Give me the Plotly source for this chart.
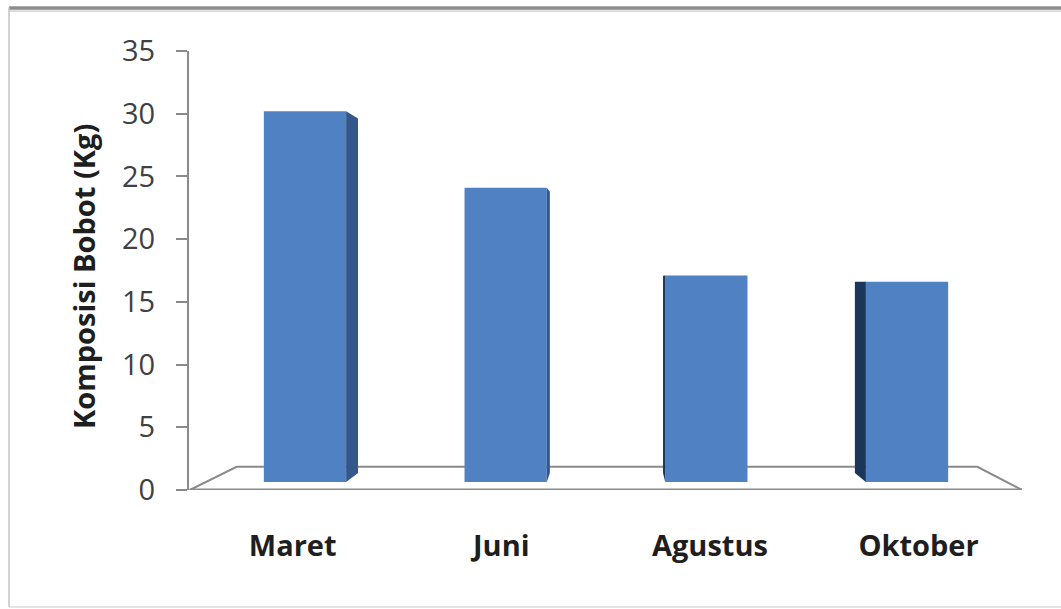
import plotly.graph_objects as go

# Data
categories = ["Maret", "Juni", "Agustus", "Oktober"]
bobot_kg = [30.2, 24.1, 17.1, 16.6]
y_ticks = [0, 5, 10, 15, 20, 25, 30, 35]

# Page geometry (pixels)
W, H = 1061, 609
PX_L, PX_R, PX_T, PX_B = 189, 1022, 51, 490

# Axis ranges
X_MIN, X_MAX = -0.578, 3.573
Y_MIN, Y_MAX = 0, 35

# Pseudo-3D perspective: vanishing point (data units) and depths
VP_X, VP_Y = 1.55, 16.8
FLOOR_DEPTH = 0.11      # depth of the floor plate
BAR_FRONT = 0.038       # depth at which the bar fronts stand
BAR_DEPTH = 0.044       # depth of each bar
BAR_W = 0.41

FRONT = "#5082c3"
SIDE_R = "#33578a"
SIDE_L = "#1b3658"
EDGE = "#8a8a8a"


def recede(x, y, d):
    """Move a point toward the vanishing point by fraction d."""
    return x + d * (VP_X - x), y + d * (VP_Y - y)


def to_paper_x(px):
    return (px - PX_L) / (PX_R - PX_L)


def to_paper_y(py):
    return (PX_B - py) / (PX_B - PX_T)


xpos = list(range(len(categories)))
base = BAR_FRONT * VP_Y  # floor level under the bar fronts
bar_len = [v - base for v in bobot_kg]

fig = go.Figure()
fig.add_trace(go.Bar(
    x=xpos, y=bar_len, base=[base] * len(xpos), width=BAR_W,
    marker=dict(color=FRONT, line=dict(width=0)),
    hoverinfo="skip",
))

shapes = []

# Floor plate
fl = (X_MIN + 0.004, 0)
fr = (X_MAX, 0)
br = recede(*fr, FLOOR_DEPTH)
bl = recede(*fl, FLOOR_DEPTH)
floor_path = (f"M {fl[0]},{fl[1]} L {fr[0]},{fr[1]} L {br[0]},{br[1]} "
              f"L {bl[0]},{bl[1]} Z")
shapes.append(dict(type="path", path=floor_path, xref="x", yref="y",
                   line=dict(color=EDGE, width=2), fillcolor="white",
                   layer="below"))
shapes.append(dict(type="line", xref="x", yref="y", x0=fl[0], y0=0,
                   x1=fr[0], y1=0, line=dict(color=EDGE, width=3),
                   layer="below"))

# Side faces of the bars
for x, v in zip(xpos, bobot_kg):
    right = x + BAR_W / 2
    left = x - BAR_W / 2
    if right < VP_X:
        ex, col = right, SIDE_R
    elif left > VP_X:
        ex, col = left, SIDE_L
    else:
        continue
    tx, ty = recede(ex, v, BAR_DEPTH)
    bx, by = recede(ex, base, BAR_DEPTH)
    p = f"M {ex},{base} L {ex},{v} L {tx},{ty} L {bx},{by} Z"
    shapes.append(dict(type="path", path=p, xref="x", yref="y",
                       fillcolor=col, line=dict(width=0), layer="above"))

# Chart frame
shapes.append(dict(type="line", xref="paper", yref="paper",
                   x0=to_paper_x(9), x1=to_paper_x(W), y0=to_paper_y(8),
                   y1=to_paper_y(8), line=dict(color="#8c8c8c", width=3.5)))
shapes.append(dict(type="line", xref="paper", yref="paper",
                   x0=to_paper_x(9), x1=to_paper_x(W), y0=to_paper_y(11),
                   y1=to_paper_y(11), line=dict(color="#dcdcdc", width=2)))
shapes.append(dict(type="line", xref="paper", yref="paper",
                   x0=to_paper_x(9), x1=to_paper_x(9), y0=to_paper_y(7),
                   y1=to_paper_y(607), line=dict(color="#c4c4c4", width=1.5)))
shapes.append(dict(type="line", xref="paper", yref="paper",
                   x0=to_paper_x(9), x1=to_paper_x(W), y0=to_paper_y(607),
                   y1=to_paper_y(607), line=dict(color="#dadada", width=1.5)))

# Category labels sit on the front edge of the floor
label_x = [VP_X + (x - VP_X) / (1 - BAR_FRONT) for x in xpos]

fig.update_layout(
    width=W, height=H,
    margin=dict(l=PX_L, r=W - PX_R, t=PX_T, b=H - PX_B),
    paper_bgcolor="white", plot_bgcolor="white",
    showlegend=False,
    shapes=shapes,
    font=dict(family="Open Sans", color="#404040"),
    xaxis=dict(range=[X_MIN, X_MAX], showgrid=False, zeroline=False,
               showline=False, ticks="", tickvals=label_x,
               ticktext=categories, ticklabelstandoff=36,
               tickfont=dict(family="Open Sans", size=29, color="#1e1e1e",
                             weight="bold")),
    yaxis=dict(range=[Y_MIN, Y_MAX], tickvals=y_ticks, showgrid=False,
               zeroline=False, showline=True, linecolor=EDGE, linewidth=2,
               ticks="outside", ticklen=11, tickwidth=2, tickcolor=EDGE,
               ticklabelstandoff=15,
               tickfont=dict(family="Open Sans", size=29, color="#404040")),
    annotations=[dict(
        text="Komposisi Bobot (Kg)", textangle=-90, showarrow=False,
        xref="paper", yref="paper", x=to_paper_x(83), y=to_paper_y(277),
        xanchor="center", yanchor="middle",
        font=dict(family="Open Sans", size=29, color="#1e1e1e",
                  weight="bold"),
    )],
)

fig.write_html("out.html")
